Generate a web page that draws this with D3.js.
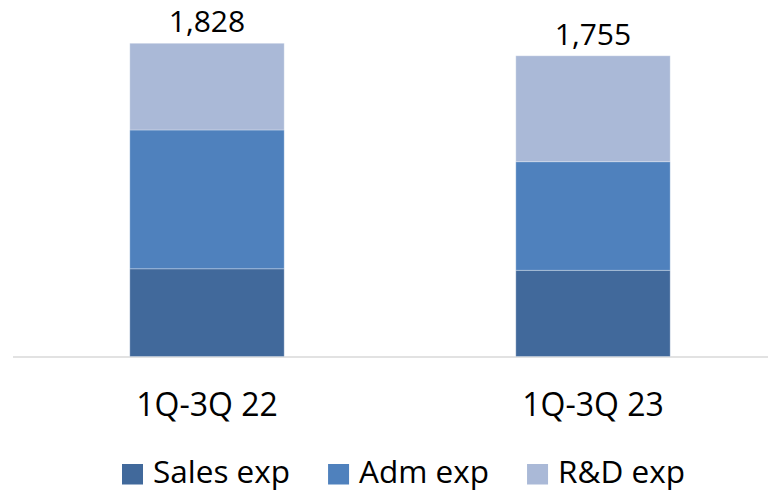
<!DOCTYPE html>
<html>
<head>
<meta charset="utf-8">
<script src="https://cdn.jsdelivr.net/npm/d3@7"></script>
<style>
  html, body { margin: 0; padding: 0; background: #fff; }
  svg { display: block; }
  text { font-family: "Open Sans", "Noto Sans", sans-serif; fill: #000; }
</style>
</head>
<body>
<svg id="chart" width="768" height="493"></svg>
<script>
const categories = ["1Q-3Q 22", "1Q-3Q 23"];
const seriesNames = ["Sales exp", "Adm exp", "R&D exp"];
const salesExp = [512, 503];
const admExp = [810, 634];
const rdExp = [506, 618];
const totalLabels = ["1,828", "1,755"];
const colors = ["#41699B", "#4F81BD", "#AAB9D7"];

const svg = d3.select("#chart");
const rows = categories.map((c, i) => ({ cat: c, "Sales exp": salesExp[i], "Adm exp": admExp[i], "R&D exp": rdExp[i], label: totalLabels[i] }));
const stack = d3.stack().keys(seriesNames)(rows);

const x = d3.scaleBand().domain(categories).range([14, 786]).paddingInner(0.6).paddingOuter(0.3);
const y = d3.scaleLinear().domain([0, 2000]).range([356.5, 13.8]);
const color = d3.scaleOrdinal().domain(seriesNames).range(colors);

// axis line
svg.append("line")
  .attr("x1", 13).attr("x2", 768)
  .attr("y1", y(0) + 0.5).attr("y2", y(0) + 0.5)
  .attr("stroke", "#D9D9D9").attr("stroke-width", 1.5);

// bars
svg.append("g").selectAll("g").data(stack).join("g")
  .attr("fill", d => color(d.key))
  .selectAll("rect").data(d => d).join("rect")
  .attr("x", d => x(d.data.cat))
  .attr("width", x.bandwidth())
  .attr("y", d => y(d[1]))
  .attr("height", d => y(d[0]) - y(d[1]))
  .attr("stroke", "rgba(255,255,255,0.3)")
  .attr("stroke-width", 1);

// totals
svg.append("g").selectAll("text").data(rows).join("text")
  .attr("x", d => x(d.cat) + x.bandwidth() / 2)
  .attr("y", d => y(d["Sales exp"] + d["Adm exp"] + d["R&D exp"]) - 11)
  .attr("text-anchor", "middle")
  .style("font-size", "30px")
  .text(d => d.label);

// category labels
const xAxis = d3.axisBottom(x).tickSize(0).tickPadding(0);
const gx = svg.append("g").attr("transform", `translate(0,${y(0)})`).call(xAxis);
gx.select(".domain").remove();
gx.selectAll("text")
  .attr("y", 59.5).attr("dy", null)
  .style("font-size", "32px")
  .style("font-family", "'Open Sans', sans-serif")
  .attr("fill", "#000");

// legend
const legend = svg.append("g");
let lx = 122;
seriesNames.forEach((name, i) => {
  legend.append("rect")
    .attr("x", lx).attr("y", 464).attr("width", 21).attr("height", 20.5)
    .attr("fill", color(name));
  const t = legend.append("text")
    .attr("x", lx + 31).attr("y", 483)
    .style("font-size", "31.5px")
    .text(name);
  const w = t.node().getComputedTextLength();
  lx = lx + 31 + w + 38;
});
</script>
</body>
</html>
